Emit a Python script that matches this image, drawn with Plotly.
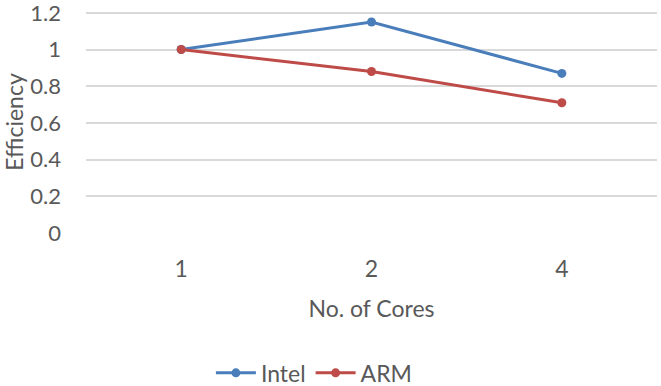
import plotly.graph_objects as go

cores = ["1", "2", "4"]
intel = [1.0, 1.15, 0.87]
arm = [1.0, 0.88, 0.71]
y_ticks = [0, 0.2, 0.4, 0.6, 0.8, 1, 1.2]
y_tick_text = ["0", "0.2", "0.4", "0.6", "0.8", "1", "1.2"]

FONT = "Lato, 'Open Sans', sans-serif"
GRAY = "#595959"
FS = 23

fig = go.Figure()
fig.add_trace(go.Scatter(x=cores, y=intel, name="Intel", mode="lines+markers",
                         line=dict(color="#4a7ebb", width=3),
                         marker=dict(size=9, color="#4a7ebb")))
fig.add_trace(go.Scatter(x=cores, y=arm, name="ARM", mode="lines+markers",
                         line=dict(color="#be4b48", width=3),
                         marker=dict(size=9, color="#be4b48")))

fig.update_layout(
    width=661, height=386,
    margin=dict(l=86, r=4, t=11, b=153, autoexpand=False),
    paper_bgcolor="white", plot_bgcolor="white",
    font=dict(family=FONT, color=GRAY, size=FS),
    showlegend=True,
    legend=dict(orientation="h", x=0.40, xanchor="center", y=-0.63, yanchor="middle",
                font=dict(size=FS, color=GRAY), itemwidth=40, tracegroupgap=0),
    xaxis=dict(type="category", range=[-0.5, 2.5], showgrid=False, zeroline=False,
               showline=False, ticks="", ticklabelstandoff=20, automargin=False,
               tickfont=dict(size=FS, color=GRAY),
               title=dict(text="No. of Cores", font=dict(size=FS, color=GRAY), standoff=19)),
    yaxis=dict(range=[0, 1.21], tickvals=y_ticks, ticktext=y_tick_text,
               showgrid=True, gridcolor="#d9d9d9", gridwidth=1.5, automargin=False,
               zeroline=False, showline=False, ticks="", ticklabelstandoff=24,
               ticklabeloverflow="allow",
               tickfont=dict(size=22, color=GRAY),
               title=dict(text="Efficiency", font=dict(size=FS, color=GRAY), standoff=0)),
)
fig.write_html("out.html")
